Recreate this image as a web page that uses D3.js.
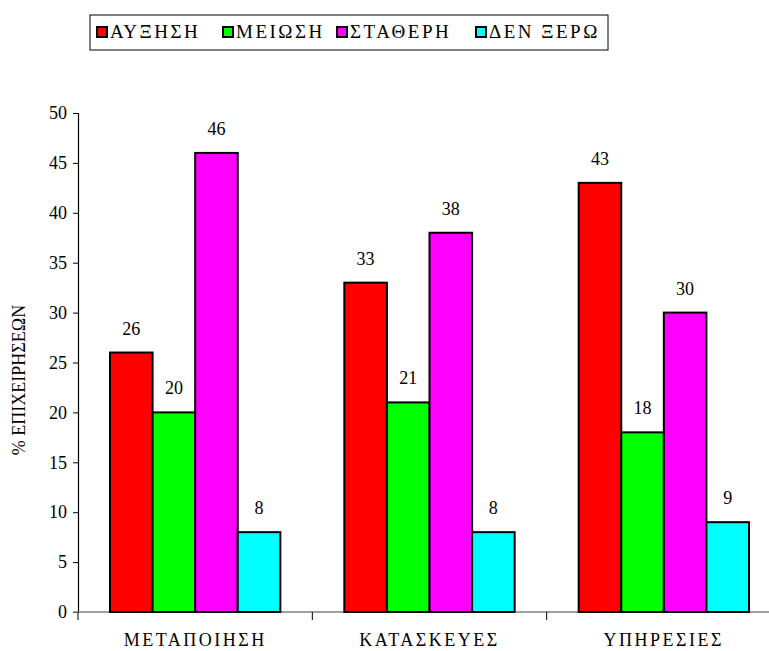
<!DOCTYPE html>
<html>
<head>
<meta charset="utf-8">
<script src="https://cdn.jsdelivr.net/npm/d3@7"></script>
<style>
body { margin: 0; background: #fff; }
</style>
</head>
<body>
<svg id="chart" width="769" height="651"></svg>
<script>
var categories = ["ΜΕΤΑΠΟΙΗΣΗ", "ΚΑΤΑΣΚΕΥΕΣ", "ΥΠΗΡΕΣΙΕΣ"];
var series = ["ΑΥΞΗΣΗ", "ΜΕΙΩΣΗ", "ΣΤΑΘΕΡΗ", "ΔΕΝ ΞΕΡΩ"];
var colors = ["#ff0000", "#00ff00", "#ff00ff", "#00ffff"];
var values = [
	[26, 20, 46, 8],
	[33, 21, 38, 8],
	[43, 18, 30, 9]
];
var yTicks = [0, 5, 10, 15, 20, 25, 30, 35, 40, 45, 50];

var FONT = "Times New Roman, Liberation Serif, serif";
var svg = d3.select("#chart").attr("font-family", FONT);
var plotLeft = 78, plotBottom = 612, plotTop = 113, plotRight = 781;

var x = d3.scaleBand().domain(categories).range([plotLeft, plotRight]);
var xs = d3.scaleBand().domain(series).range([32, x.bandwidth() - 32]);
var y = d3.scaleLinear().domain([0, 50]).range([plotBottom, plotTop]);

// y axis
var yAxis = svg.append("g")
	.attr("transform", "translate(" + plotLeft + ",0)")
	.call(d3.axisLeft(y).tickValues(yTicks).tickSize(5).tickPadding(6));
yAxis.attr("font-family", FONT).attr("font-size", 18);
yAxis.select(".domain").attr("stroke", "#000").attr("stroke-width", 1.2);
yAxis.selectAll(".tick line").attr("stroke", "#000");
yAxis.selectAll(".tick text").attr("fill", "#000").attr("font-family", FONT);

// x axis line (gray) + boundary ticks
svg.append("line")
	.attr("x1", plotLeft - 5).attr("x2", 769)
	.attr("y1", plotBottom).attr("y2", plotBottom)
	.attr("stroke", "#808080").attr("stroke-width", 1.5);
svg.selectAll(".xtick")
	.data(categories)
	.enter()
	.append("line")
	.attr("class", "xtick")
	.attr("x1", function(d) { return x(d); })
	.attr("x2", function(d) { return x(d); })
	.attr("y1", plotBottom)
	.attr("y2", plotBottom + 8)
	.attr("stroke", "#000");
svg.selectAll(".xlab")
	.data(categories)
	.enter()
	.append("text")
	.attr("class", "xlab")
	.attr("x", function(d) { return x(d) + x.bandwidth() / 2; })
	.attr("y", 646)
	.attr("text-anchor", "middle")
	.attr("font-family", FONT)
	.attr("font-size", 18)
	.attr("letter-spacing", 2.5)
	.text(function(d) { return d; });

// bars
var groups = svg.selectAll(".grp")
	.data(values)
	.enter()
	.append("g")
	.attr("class", "grp")
	.attr("transform", function(d, i) { return "translate(" + x(categories[i]) + ",0)"; });
groups.selectAll("rect")
	.data(function(d) { return d; })
	.enter()
	.append("rect")
	.attr("x", function(d, j) { return xs(series[j]); })
	.attr("y", function(d) { return y(d); })
	.attr("width", xs.bandwidth())
	.attr("height", function(d) { return plotBottom - y(d); })
	.attr("fill", function(d, j) { return colors[j]; })
	.attr("stroke", "#000")
	.attr("stroke-width", 2);
groups.selectAll(".val")
	.data(function(d) { return d; })
	.enter()
	.append("text")
	.attr("class", "val")
	.attr("x", function(d, j) { return xs(series[j]) + xs.bandwidth() / 2; })
	.attr("y", function(d) { return y(d) - 18; })
	.attr("text-anchor", "middle")
	.attr("font-family", FONT)
	.attr("font-size", 18)
	.text(function(d) { return d; });

// y title
svg.append("text")
	.attr("transform", "translate(25,380) rotate(-90)")
	.attr("text-anchor", "middle")
	.attr("font-family", FONT)
	.attr("font-size", 18)
	.text("% ΕΠΙΧΕΙΡΗΣΕΩΝ");

// legend
var legend = svg.append("g");
legend.append("rect")
	.attr("x", 90).attr("y", 15)
	.attr("width", 518).attr("height", 35)
	.attr("fill", "#fff").attr("stroke", "#000");
var legX = [97, 223, 337, 476];
var items = legend.selectAll(".li")
	.data(series)
	.enter()
	.append("g")
	.attr("class", "li")
	.attr("transform", function(d, i) { return "translate(" + legX[i] + ",27)"; });
items.append("rect")
	.attr("width", 10).attr("height", 10)
	.attr("fill", function(d, i) { return colors[i]; })
	.attr("stroke", "#000").attr("stroke-width", 2);
items.append("text")
	.attr("x", 13).attr("y", 11)
	.attr("font-family", FONT)
	.attr("font-size", 19)
	.attr("letter-spacing", 2.5)
	.text(function(d) { return d; });
</script>
</body>
</html>
